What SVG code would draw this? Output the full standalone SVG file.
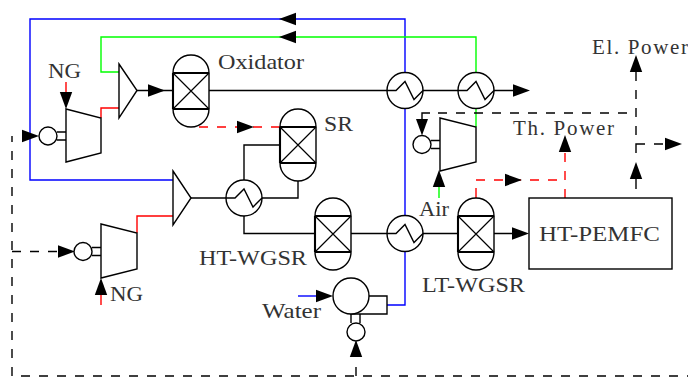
<svg xmlns="http://www.w3.org/2000/svg" width="688" height="377" viewBox="0 0 688 377">
<style>
.k,.r,.g,.b,.kd,.rd,.s{fill:none;stroke-width:1.4;stroke-linejoin:miter}
.k,.kd,.s{stroke:#000}.r,.rd{stroke:#f00}.g{stroke:#0f0}.b{stroke:#00f}
.kd,.rd{stroke-dasharray:9 9}
.a{fill:none;stroke:none}
.w{fill:#fff;stroke:#000;stroke-width:1.4}
text{font-family:"Liberation Serif","Times New Roman",serif;font-size:21px;fill:#333}
</style>
<defs>
<marker id="ah" markerUnits="userSpaceOnUse" markerWidth="18" markerHeight="14" viewBox="-17 -7 18 14" refX="0" refY="0" orient="auto"><path d="M0 0L-17-6.2V6.2Z" fill="#000"/></marker>
<g id="rx"><path class="w" d="M-18-18A18 18 0 0 1 18-18V18A18 18 0 0 1-18 18Z"/><path class="s" style="stroke-width:1.2" d="M-18-18L18 18M18-18L-18 18"/><path class="s" style="stroke-width:2.1" d="M-18-18H18M-18 18H18M-18-18V18"/></g>
<g id="hx"><circle class="w" r="18"/><path class="s" d="M-18 0H-9L0-9 9 9 18 0"/></g>
</defs>
<g id="connectors">
<path class="b" d="M405 215V19H30V180H173"/>
<path class="b" d="M298 296H317"/>
<path class="b" d="M387 305H405V251"/>
<path class="g" d="M476 72V37H101V72H119"/>
<path class="g" d="M476 108V127"/>
<path class="g" d="M439 198V187"/>
<path class="r" d="M66 82V93"/>
<path class="r" d="M101 118V108H119"/>
<path class="r" d="M137 233V216H173"/>
<path class="r" d="M101 305V295"/>
<path class="k" d="M137 90.5H173"/>
<path class="k" d="M209 90.5H387M423 90.5H458M494 90.5H515"/>
<path class="k" d="M191 198H226M262 198H298V181M280 145H244V180M244 216V233.5H315M351 233.5H387M423 233.5H458M494 233.5H515"/>
<path class="rd" d="M199 127H280"/>
<path class="rd" d="M476 180H557"/>
<path class="r" d="M476 198V188"/>
<path class="rd" d="M565 198V152"/>
<path class="kd" d="M12 376V136"/>
<path class="kd" d="M21 376H688"/>
<path class="kd" d="M12 251.5H57"/>
<path class="k" d="M356 376V367"/>
<path class="kd" d="M636 135V72"/>
<path class="k" d="M636 153V144H645M654 144H663M636 189V179"/>
<path class="kd" d="M627 113H438"/>
<path class="k" d="M430 113H422V121"/>
<g id="arrowheads">
<path class="a" d="M296 19H279" marker-end="url(#ah)"/>
<path class="a" d="M296 37H279" marker-end="url(#ah)"/>
<path class="a" d="M22 136H39" marker-end="url(#ah)"/>
<path class="a" d="M66 93V109" marker-end="url(#ah)"/>
<path class="a" d="M147 90.5H165" marker-end="url(#ah)"/>
<path class="a" d="M237 127H254" marker-end="url(#ah)"/>
<path class="a" d="M513 90.5H530" marker-end="url(#ah)"/>
<path class="a" d="M422 118V135.5" marker-end="url(#ah)"/>
<path class="a" d="M636 72V55" marker-end="url(#ah)"/>
<path class="a" d="M665 144H682" marker-end="url(#ah)"/>
<path class="a" d="M636 179V162" marker-end="url(#ah)"/>
<path class="a" d="M565 152V135" marker-end="url(#ah)"/>
<path class="a" d="M504 180H522" marker-end="url(#ah)"/>
<path class="a" d="M439 187V170" marker-end="url(#ah)"/>
<path class="a" d="M58 251.5H75" marker-end="url(#ah)"/>
<path class="a" d="M101 295V278" marker-end="url(#ah)"/>
<path class="a" d="M513 233.5H529" marker-end="url(#ah)"/>
<path class="a" d="M317 296H333" marker-end="url(#ah)"/>
<path class="a" d="M356 357V340" marker-end="url(#ah)"/>
</g>
</g>
<g id="compressor-1"><path class="k" d="M57 132H66M57 140H66"/><circle class="w" cx="48" cy="136" r="9"/><path class="w" d="M66 109L101 118V153L66 162Z"/></g>
<g id="compressor-2"><path class="k" d="M92 247.5H101M92 255.5H101"/><circle class="w" cx="83" cy="251.5" r="9"/><path class="w" d="M101 224L137 233V269L101 278Z"/></g>
<g id="compressor-3"><path class="k" d="M431 140.5H440M431 148.5H440"/><circle class="w" cx="422" cy="144.5" r="9"/><path class="w" d="M440 118L476 127V162L440 171Z"/></g>
<g id="mixer-1"><path class="w" d="M119 64L137 90.5 119 118Z"/></g>
<g id="mixer-2"><path class="w" d="M173 171L191 198 173 225Z"/></g>
<g id="oxidator"><use href="#rx" x="191" y="91"/><text x="218" y="69" textLength="86" lengthAdjust="spacingAndGlyphs">Oxidator</text></g>
<g id="sr"><use href="#rx" x="298" y="145"/><text x="324" y="131" textLength="29" lengthAdjust="spacingAndGlyphs">SR</text></g>
<g id="ht-wgsr"><use href="#rx" x="333" y="234"/><text x="199" y="265" textLength="108" lengthAdjust="spacingAndGlyphs">HT-WGSR</text></g>
<g id="lt-wgsr"><use href="#rx" x="476" y="234"/><text x="422" y="292" textLength="103" lengthAdjust="spacingAndGlyphs">LT-WGSR</text></g>
<g id="hx-1"><use href="#hx" x="405" y="90.5"/></g>
<g id="hx-2"><use href="#hx" x="476" y="90.5"/></g>
<g id="hx-3"><use href="#hx" x="244" y="198"/></g>
<g id="hx-4"><use href="#hx" x="405" y="233.5"/></g>
<g id="pump"><path class="k" d="M351 314V323M360 314V323"/><path class="w" d="M351 296H387V314H351Z"/><circle class="w" cx="351" cy="296" r="18"/><circle class="w" cx="356" cy="332" r="9"/></g>
<g id="fuel-cell"><rect class="w" x="529" y="198" width="143" height="71"/><text x="539" y="241" textLength="121" lengthAdjust="spacingAndGlyphs">HT-PEMFC</text></g>
<g id="labels">
<text x="48" y="78" textLength="33" lengthAdjust="spacingAndGlyphs">NG</text>
<text x="110" y="301" textLength="33" lengthAdjust="spacingAndGlyphs">NG</text>
<text x="262" y="318" textLength="59" lengthAdjust="spacingAndGlyphs">Water</text>
<text x="419" y="216" textLength="30" lengthAdjust="spacingAndGlyphs">Air</text>
<text x="592" y="54" textLength="96" lengthAdjust="spacing">El. Power</text>
<text x="513" y="135" textLength="101" lengthAdjust="spacing">Th. Power</text>
</g>
</svg>
